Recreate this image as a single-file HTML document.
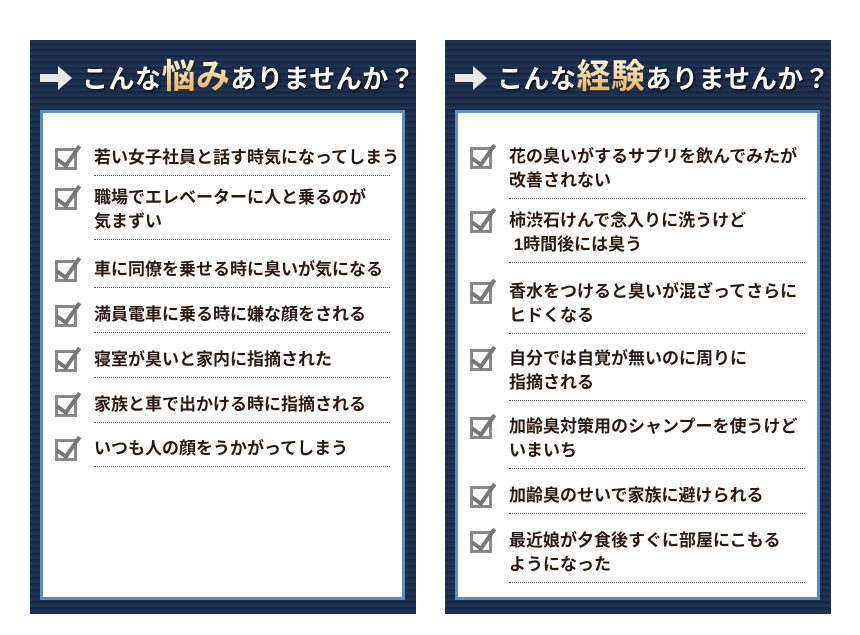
<!DOCTYPE html>
<html><head><meta charset="utf-8"><style>
*{margin:0;padding:0;box-sizing:border-box}
body{width:860px;height:635px;background:#fff;position:relative;overflow:hidden;font-family:"Liberation Sans","Noto Sans CJK JP",sans-serif}
.panel{position:absolute;top:40px;width:386px;height:574px;background:repeating-linear-gradient(180deg,#1b2c48 0px,#22375a 2px,#14243e 4px,#1d3150 6px);}
.title{position:absolute;top:14px;left:8px;height:46px;color:#fff;font-weight:bold;font-size:26px;white-space:nowrap;text-shadow:1px 1px 2px #000;line-height:46px;letter-spacing:0.5px}
.title .g{font-size:34px;background:linear-gradient(#fff6d8,#e6a94a);-webkit-background-clip:text;background-clip:text;color:transparent;text-shadow:none}
.title svg{vertical-align:middle;margin-right:8px;position:relative;top:-3px}
.box{position:absolute;left:10px;top:70px;width:365px;height:490px;background:#fff;border:3px solid #5b8fc4}
.item{position:absolute;left:51px;width:296px;font-size:17px;font-weight:bold;color:#2b1a12;line-height:24px;border-bottom:1px dotted #555;padding-bottom:5px;white-space:nowrap}
.cb{position:absolute;left:-39px;top:2px;width:22px;height:22px;border:3px solid #888}
.cb:after{content:"";position:absolute;left:4px;top:-10px;width:9px;height:22px;border-right:4px solid #777;border-bottom:4px solid #777;transform:rotate(35deg)}
</style></head><body>
<div class="panel" style="left:30px">
 <div class="title"><svg width="36" height="28" viewBox="0 0 36 28"><path d="M2 10h18V2l14 12-14 12v-8H2z" fill="#e8e8e8"/></svg>こんな<span class="g">悩み</span>ありませんか？</div>
 <div class="box">
  <div class="item" style="top:33px">若い女子社員と話す時気になってしまう<i class="cb"></i></div>
  <div class="item" style="top:73px">職場でエレベーターに人と乗るのが<br>気まずい<i class="cb"></i></div>
  <div class="item" style="top:145px">車に同僚を乗せる時に臭いが気になる<i class="cb"></i></div>
  <div class="item" style="top:190px">満員電車に乗る時に嫌な顔をされる<i class="cb"></i></div>
  <div class="item" style="top:235px">寝室が臭いと家内に指摘された<i class="cb"></i></div>
  <div class="item" style="top:280px">家族と車で出かける時に指摘される<i class="cb"></i></div>
  <div class="item" style="top:324px">いつも人の顔をうかがってしまう<i class="cb"></i></div>
 </div>
</div>
<div class="panel" style="left:445px">
 <div class="title"><svg width="36" height="28" viewBox="0 0 36 28"><path d="M2 10h18V2l14 12-14 12v-8H2z" fill="#e8e8e8"/></svg>こんな<span class="g">経験</span>ありませんか？</div>
 <div class="box">
  <div class="item" style="top:32px">花の臭いがするサプリを飲んでみたが<br>改善されない<i class="cb"></i></div>
  <div class="item" style="top:96px">柿渋石けんで念入りに洗うけど<br>&nbsp;1時間後には臭う<i class="cb"></i></div>
  <div class="item" style="top:167px">香水をつけると臭いが混ざってさらに<br>ヒドくなる<i class="cb"></i></div>
  <div class="item" style="top:234px">自分では自覚が無いのに周りに<br>指摘される<i class="cb"></i></div>
  <div class="item" style="top:302px">加齢臭対策用のシャンプーを使うけど<br>いまいち<i class="cb"></i></div>
  <div class="item" style="top:371px">加齢臭のせいで家族に避けられる<i class="cb"></i></div>
  <div class="item" style="top:416px">最近娘が夕食後すぐに部屋にこもる<br>ようになった<i class="cb"></i></div>
 </div>
</div>
</body></html>
